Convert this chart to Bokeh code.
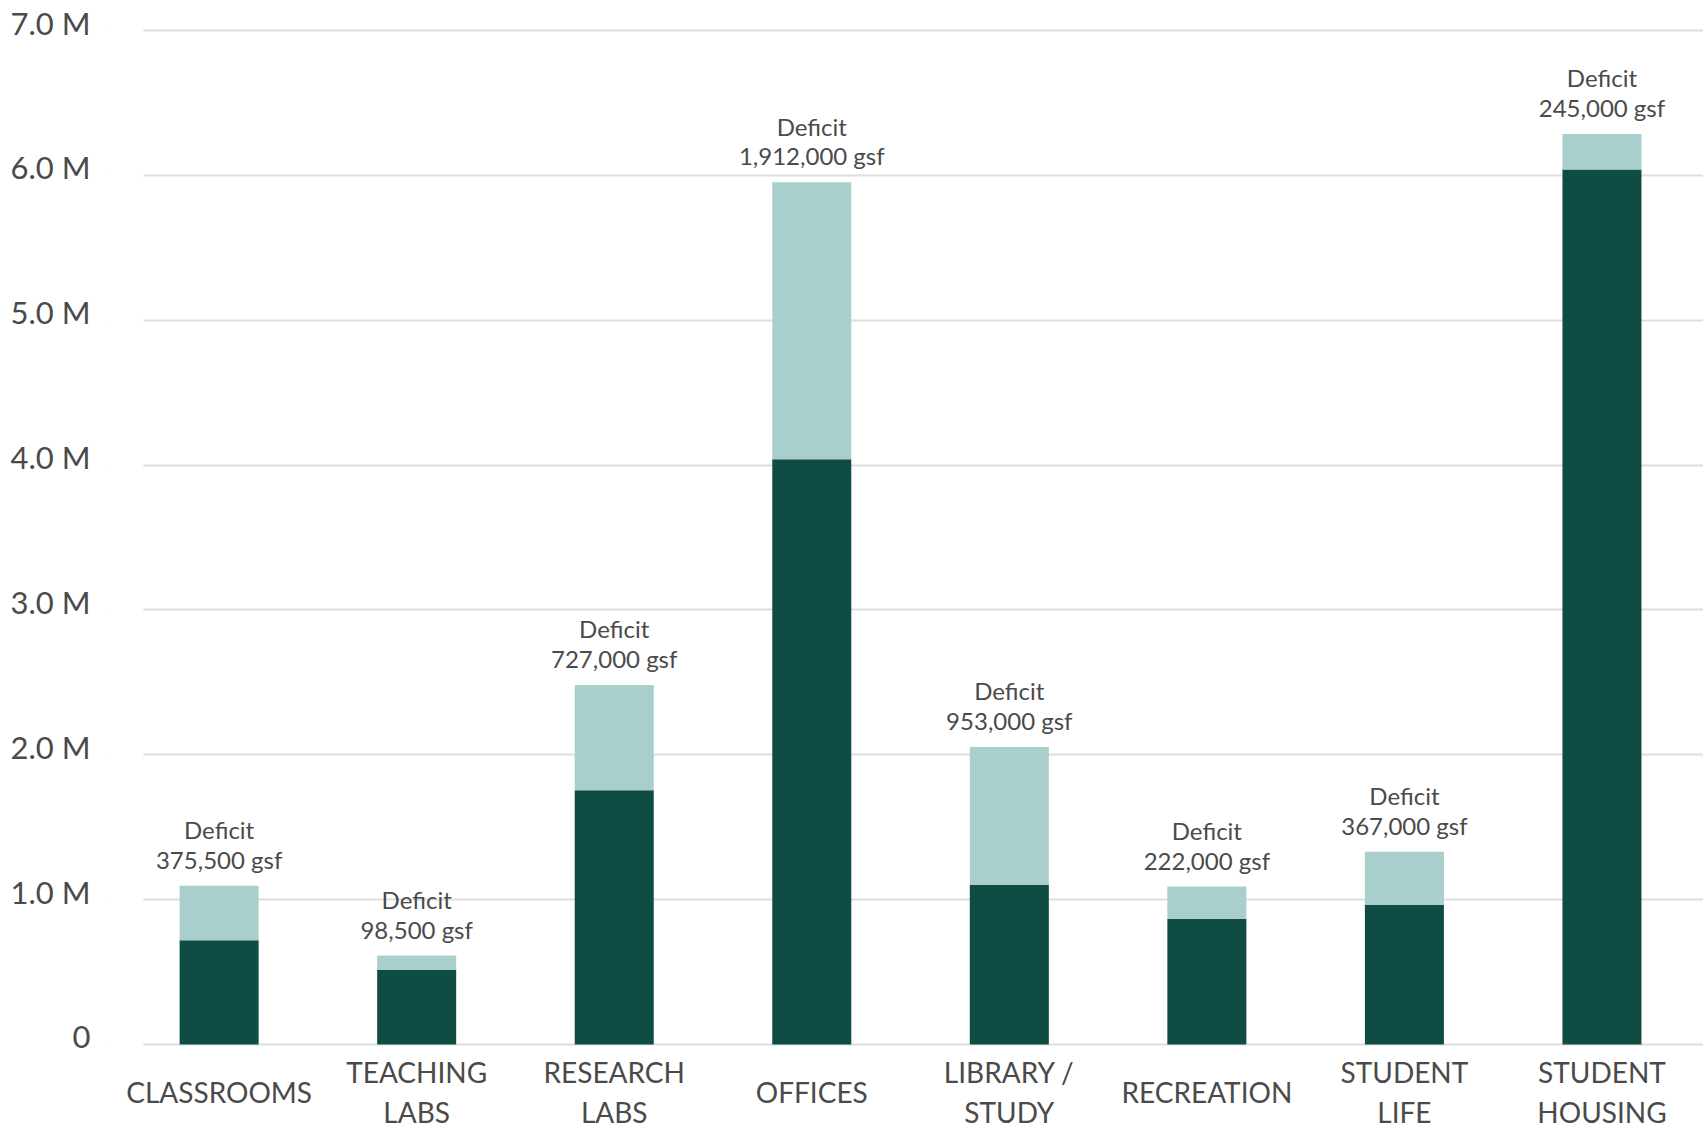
from bokeh.plotting import figure
from bokeh.models import ColumnDataSource, Range1d, FixedTicker, BoxAnnotation, LinearAxis
from bokeh.core.properties import value
from bokeh.embed import file_html
from bokeh.resources import INLINE

# ---- data ----
categories = ["CLASSROOMS", "TEACHING\nLABS", "RESEARCH\nLABS", "OFFICES",
              "LIBRARY /\nSTUDY", "RECREATION", "STUDENT\nLIFE", "STUDENT\nHOUSING"]
existing_gsf = [720000, 515000, 1755000, 4040000, 1100000, 868000, 963000, 6040000]
deficit_gsf = [375500, 98500, 727000, 1912000, 953000, 222000, 367000, 245000]
tick_values = [0, 1000000, 2000000, 3000000, 4000000, 5000000, 6000000, 7000000]
tick_labels = ["0", "1.0 M", "2.0 M", "3.0 M", "4.0 M", "5.0 M", "6.0 M", "7.0 M"]

FONT = "Lato"
TEXT_COLOR = "#4a4a4a"
DARK = "#0f4c43"
LIGHT = "#a9cfcc"

X_START, X_END = -0.560, 7.514
Y_START, Y_END = -601000, 7207000
GRID_X_START = -0.383      # where the horizontal grid lines begin
LABEL_LIFT = 55000         # tick labels sit slightly above their grid lines

idx = list(range(len(categories)))
total = [e + d for e, d in zip(existing_gsf, deficit_gsf)]
source = ColumnDataSource(dict(
    x=idx,
    existing=existing_gsf,
    total=total,
    zero=[0] * len(idx),
    deficit_text=[f"Deficit\n{d:,} gsf" for d in deficit_gsf],
    cat=categories,
    cat_y=[-330000] * len(idx),
))

p = figure(width=1703, height=1131, output_backend="svg", toolbar_location=None,
           x_range=Range1d(X_START, X_END), y_range=Range1d(Y_START, Y_END),
           min_border_left=108, min_border_right=0, min_border_top=0, min_border_bottom=0)
p.background_fill_color = "white"
p.border_fill_color = "white"
p.outline_line_color = None

# white mask so grid lines start a bit right of the frame edge
mask = BoxAnnotation(right=GRID_X_START, fill_color="white", fill_alpha=1.0,
                     line_color=None, level="underlay")
p.add_layout(mask)

p.vbar(x="x", bottom="zero", top="existing", width=0.40, source=source,
       fill_color=DARK, line_color=None)
p.vbar(x="x", bottom="existing", top="total", width=0.40, source=source,
       fill_color=LIGHT, line_color=None)

p.text(x="x", y="total", text="deficit_text", source=source,
       text_font=value(FONT), text_font_size="24px", text_color=TEXT_COLOR,
       text_align="center", text_baseline="bottom", text_line_height=1.02, y_offset=-12)

p.text(x="x", y="cat_y", text="cat", source=source,
       text_font=value(FONT), text_font_size="28px", text_color=TEXT_COLOR,
       text_align="center", text_baseline="middle", text_line_height=1.18)

p.xaxis.visible = False
p.xgrid.visible = False
p.yaxis.visible = False

p.ygrid.ticker = FixedTicker(ticks=tick_values)
p.ygrid.grid_line_color = "#dedede"
p.ygrid.grid_line_width = 2

# label axis on a slightly shifted range so labels sit just above the grid lines
p.extra_y_ranges = {"labels": Range1d(Y_START - LABEL_LIFT, Y_END - LABEL_LIFT)}
yax = LinearAxis(y_range_name="labels", ticker=FixedTicker(ticks=tick_values))
yax.major_label_overrides = {v: l for v, l in zip(tick_values, tick_labels)}
yax.axis_line_color = None
yax.major_tick_line_color = None
yax.minor_tick_line_color = None
yax.major_label_text_font = FONT
yax.major_label_text_font_size = "31px"
yax.major_label_text_color = TEXT_COLOR
yax.major_label_standoff = 12
p.add_layout(yax, "left")

open("out.html", "w").write(file_html(p, INLINE))
